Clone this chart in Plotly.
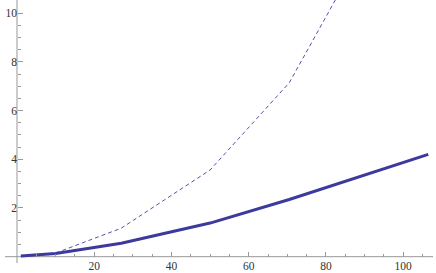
import plotly.graph_objects as go

x_vals = [1, 10, 27, 50, 70.5, 106.5]
solid_y = [0.03, 0.13, 0.55, 1.38, 2.35, 4.2]
dashed_y = [0.03, 0.15, 1.17, 3.56, 7.14, 17.4]
x_ticks = [20, 40, 60, 80, 100]
y_ticks = [2, 4, 6, 8, 10]

W, H = 436, 273
x_range = [-4.4, 108.5]
y_range = [-0.67, 10.54]

col = "#3d3a9e"
fig = go.Figure()
fig.add_trace(go.Scatter(x=x_vals, y=dashed_y, mode="lines",
                         line=dict(color="#5552b0", width=1, dash="4px,3px"),
                         hoverinfo="skip"))
fig.add_trace(go.Scatter(x=x_vals, y=solid_y, mode="lines",
                         line=dict(color=col, width=3),
                         hoverinfo="skip"))

xpos = (0 - y_range[0]) / (y_range[1] - y_range[0])
ypos = (0 - x_range[0]) / (x_range[1] - x_range[0])
axfont = dict(family="Liberation Serif, Times New Roman, serif", size=11.5, color="#333333")
fig.update_layout(
    width=W, height=H, margin=dict(l=0, r=0, t=0, b=0),
    paper_bgcolor="white", plot_bgcolor="white", showlegend=False,
    xaxis=dict(range=x_range, anchor="free", position=xpos, showgrid=False, automargin=False,
               zeroline=False, showline=False, tickvals=x_ticks,
               ticks="inside", ticklen=5, tickcolor="#999999", tickfont=axfont,
               ticklabelstandoff=1,
               minor=dict(tickvals=[5, 10, 15, 25, 30, 35, 45, 50, 55, 65, 70, 75, 85, 90, 95, 105],
                          ticks="inside", ticklen=3, tickcolor="#999999")),
    yaxis=dict(range=y_range, anchor="free", position=ypos, showgrid=False, automargin=False,
               zeroline=False, showline=False, tickvals=y_ticks,
               ticks="inside", ticklen=5, tickcolor="#999999", tickfont=axfont,
               minor=dict(tickvals=[0.5, 1, 1.5, 2.5, 3, 3.5, 4.5, 5, 5.5, 6.5, 7, 7.5, 8.5, 9, 9.5],
                          ticks="inside", ticklen=3, tickcolor="#999999")),
    shapes=[
        dict(type="line", xref="paper", yref="y", x0=5 / W, x1=433 / W, y0=0, y1=0,
             line=dict(color="#999999", width=1), layer="below"),
        dict(type="line", xref="x", yref="paper", x0=0, x1=0, y0=(H - 263) / H, y1=1,
             line=dict(color="#999999", width=1), layer="below"),
    ],
)
fig.write_html("out.html", config={"displayModeBar": False},
               post_script="document.body.style.margin='0';document.body.style.overflow='hidden';")
